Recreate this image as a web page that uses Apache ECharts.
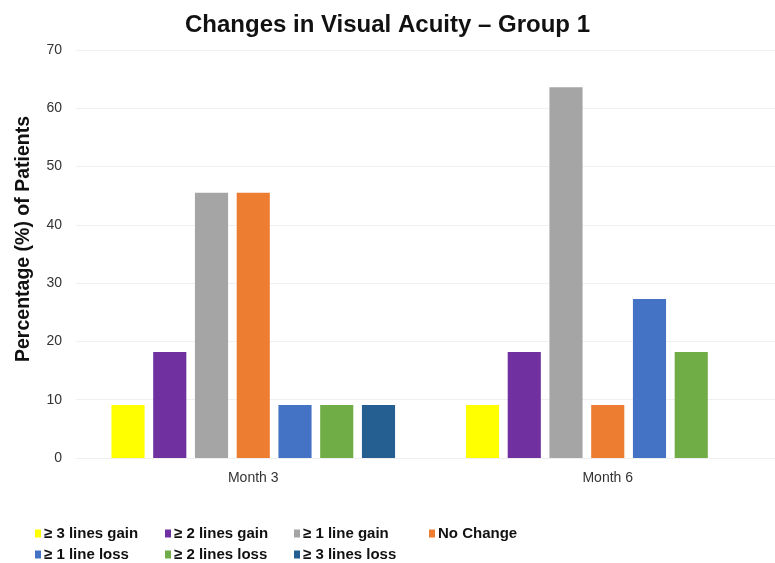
<!DOCTYPE html>
<html><head><meta charset="utf-8">
<script src="https://cdn.jsdelivr.net/npm/echarts@6/dist/echarts.min.js"></script>
<style>html,body{margin:0;padding:0;background:#fff}#c{width:775px;height:563px}</style>
</head><body><div id="c"></div>
<script>
const categories = ['Month 3', 'Month 6'];
const seriesNames = ['≥ 3 lines gain', '≥ 2 lines gain', '≥ 1 line gain', 'No Change', '≥ 1 line loss', '≥ 2 lines loss', '≥ 3 lines loss'];
const gain3 = [9.1, 9.1];
const gain2 = [18.2, 18.2];
const gain1 = [45.5, 63.6];
const noChange = [45.5, 9.1];
const loss1 = [9.1, 27.3];
const loss2 = [9.1, 18.2];
const loss3 = [9.1, 0];
const yTicks = [0, 10, 20, 30, 40, 50, 60, 70];
const seriesValues = [gain3, gain2, gain1, noChange, loss1, loss2, loss3];
const colors = ['#FFFF00', '#7030A0', '#A5A5A5', '#ED7D31', '#4472C4', '#70AD47', '#255E91'];

const legendPos = [[30,521],[160,521],[289,521],[424,521],[30,542],[160,542],[289,542]];
const legends = seriesNames.map((n, i) => ({
  data: [n], left: legendPos[i][0], top: legendPos[i][1],
  itemWidth: 6, itemHeight: 8, itemGap: 0,
  textStyle: {fontFamily: 'Liberation Sans, Arial', fontWeight: 'bold', fontSize: 15, color: '#111', padding: [0,0,0,-2]},
  icon: 'rect', selectedMode: false
}));

const chart = echarts.init(document.getElementById('c'), null, {renderer: 'canvas'});
chart.setOption({
  animation: false,
  color: colors,
  title: {text: 'Changes in Visual Acuity – Group 1', left: 'center', top: 8,
    textStyle: {fontFamily: 'Liberation Sans, Arial', fontWeight: 'bold', fontSize: 24, color: '#111'}},
  legend: legends,
  grid: {left: 76, width: 709, top: 50, bottom: 105, containLabel: false, outerBoundsMode: 'none'},
  xAxis: {type: 'category', data: categories,
    axisLine: {show: true, lineStyle: {color: '#eeeeee'}}, axisTick: {show: false},
    axisLabel: {fontFamily: 'Liberation Sans, Arial', fontSize: 14, color: '#333', margin: 13}},
  yAxis: {type: 'value', min: 0, max: 70, interval: 10,
    name: 'Percentage (%) of Patients', nameLocation: 'middle', nameGap: 42,
    nameTextStyle: {fontFamily: 'Liberation Sans, Arial', fontWeight: 'bold', fontSize: 19.5, color: '#111', padding: [0,0,0,30]},
    axisLabel: {fontFamily: 'Liberation Sans, Arial', fontSize: 14, color: '#333', margin: 14,
      formatter: v => yTicks.includes(v) ? String(v) : ''},
    splitLine: {lineStyle: {color: '#f0f0f0'}}, axisLine: {show: false}, axisTick: {show: false}},
  series: seriesNames.map((n, i) => ({
    name: n, type: 'bar', data: seriesValues[i],
    barGap: '26%', barCategoryGap: '20%',
    itemStyle: {color: colors[i]}
  }))
});
</script></body></html>
